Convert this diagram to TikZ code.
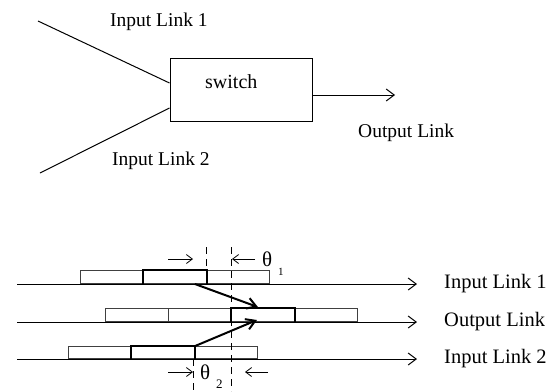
\documentclass[tikz,border=0pt]{standalone}
\usepackage{fontspec}
\setmainfont{Liberation Serif}
\usetikzlibrary{arrows.meta}

\begin{document}
\begin{tikzpicture}[x=1pt,y=-1pt,
  link/.style={line width=1pt},
  toplbl/.style={font=\fontsize{19.5}{22}\selectfont, inner sep=0pt, anchor=base west},
  rowlbl/.style={font=\fontsize{20.5}{23}\selectfont, inner sep=0pt, anchor=base west},
  pkt/.style={draw=black!75, line width=0.9pt, fill=white, minimum width=63pt,
              minimum height=13pt, anchor=south west, inner sep=0pt},
  hot/.style={pkt},
  rim/.style={line width=2.2pt, line join=miter},
  guide/.style={line width=0.9pt, dash pattern=on 7pt off 5pt},
  gap/.style={-{Straight Barb[length=6pt,width=9pt]}, line width=0.8pt},
  hop/.style={-{Straight Barb[length=9pt,width=11pt]}, line width=2pt},
  head/.style={-{Straight Barb[length=8pt,width=12pt]}, line width=1pt},
  sym/.style={font=\fontsize{21}{23}\selectfont, inner sep=0pt, anchor=base west},
  sub/.style={font=\fontsize{11}{12}\selectfont, inner sep=0pt, anchor=base west},
]
\useasboundingbox (0,0) rectangle (553,391);

% ---- switch with two inputs and one output ----
\node[draw, line width=1pt, minimum width=142pt, minimum height=63pt, inner sep=0pt]
  (sw) at (241,89.5) {};
\node[toplbl, font=\fontsize{20}{22}\selectfont] (swt) at (205,88) {switch};
\coordinate (in1) at (38,21);
\coordinate (in2) at (40,173);
\coordinate (out) at (395,95);
\draw[link] (in1) -- ([yshift=6.5pt]sw.west);
\draw[link] (in2) -- ([yshift=-18.5pt]sw.west);
\draw[head] ([yshift=-5.5pt]sw.east) -- (out);
\node[toplbl] (tl1) at (110,26.7) {Input Link 1};
\node[toplbl] (tl2) at (112,165) {Input Link 2};
\node[toplbl] (tlo) at (358,137) {Output Link};

% ---- timing of the three links ----
\coordinate (a1) at (17,284);  \coordinate (b1) at (417,284);
\coordinate (a2) at (17,322);  \coordinate (b2) at (417,322);
\coordinate (a3) at (17,359);  \coordinate (b3) at (417,359);
\node[rowlbl] (r1) at (444,288) {Input Link 1};
\node[rowlbl] (r2) at (444,326) {Output Link};
\node[rowlbl] (r3) at (444,363) {Input Link 2};

% packets on input link 1
\node[pkt] (p11) at (80,284) {};
\node[pkt] (p13) at (206,284) {};
\node[hot] (p12) at (143,284) {};
% packets on the output link
\node[pkt] (p21) at (105,322) {};
\node[pkt] (p22) at (168,322) {};
\node[pkt] (p24) at (294,322) {};
\node[hot] (p23) at (231,322) {};
% packets on input link 2
\node[pkt, minimum height=12pt] (p31) at (68,359) {};
\node[pkt, minimum height=12pt] (p33) at (194,359) {};
\node[hot, minimum height=12pt] (p32) at (131,359) {};

% the links themselves, over the packet bottoms
\draw[head] (a1) -- (b1);
\draw[head] (a2) -- (b2);
\draw[head] (a3) -- (b3);

% heavy outline of the packets that are switched
\draw[rim] (p12.south west) -- (p12.north west) -- (p12.north east) -- (p12.south east);
\draw[rim] (p23.south west) -- (p23.north west) -- (p23.north east) -- (p23.south east);
\draw[rim, line width=1.7pt] (p32.south west) -- (p32.north west) -- (p32.north east) -- (p32.south east);

% reference instants
\coordinate (d1t) at (206,247); \coordinate (d1b) at (206,284);
\coordinate (d2t) at (231,247); \coordinate (d2b) at (231,391);
\coordinate (d3t) at (193,359); \coordinate (d3b) at (193,391);
\draw[guide] (d1t) -- (d1b);
\draw[guide] (d2t) -- (d2b);
\draw[guide] (d3t) -- (d3b);

% forwarding of both packets to the output
\draw[hop] ([xshift=-12pt]p12.south east) -- ([xshift=27pt,yshift=1pt]p23.north west);
\draw[hop] (p32.north east) -- ([xshift=26pt,yshift=2pt]p23.south west);

% delay marks
\coordinate (t1a) at (168,259); \coordinate (t1b) at (193,259);
\coordinate (t1c) at (255,259); \coordinate (t1d) at (232,259);
\draw[gap] (t1a) -- (t1b);
\draw[gap] (t1c) -- (t1d);
\node[sym] (th1) at (262,266.5) {θ};
\node[sub] (th1s) at (278,275) {1};

\coordinate (t2a) at (168,372); \coordinate (t2b) at (193,372);
\coordinate (t2c) at (268,372); \coordinate (t2d) at (245,372);
\draw[gap] (t2a) -- (t2b);
\draw[gap] (t2c) -- (t2d);
\node[sym] (th2) at (200,379) {θ};
\node[sub, font=\fontsize{13}{14}\selectfont] (th2s) at (216,388) {2};
\end{tikzpicture}
\end{document}
